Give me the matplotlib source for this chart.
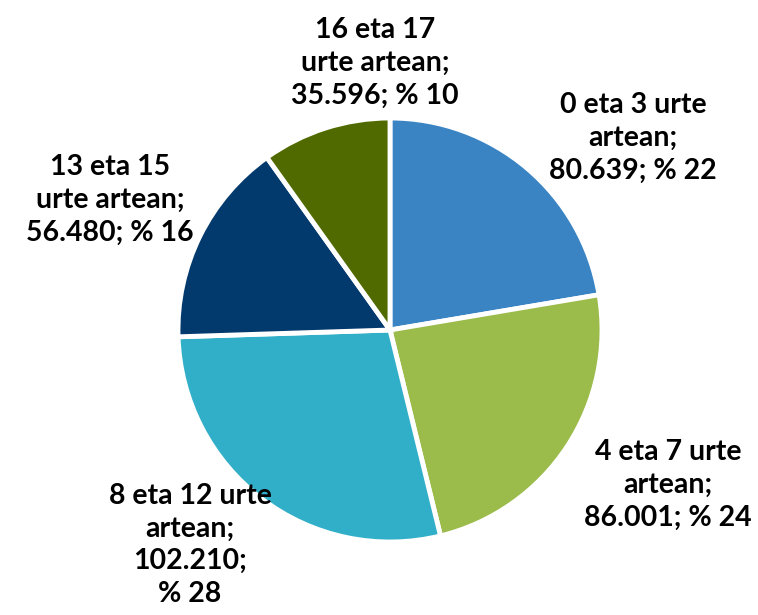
import matplotlib
matplotlib.use("Agg")
import matplotlib.pyplot as plt

# adin-taldeak
kategoriak = ["0 eta 3 urte\nartean", "4 eta 7 urte\nartean", "8 eta 12 urte\nartean",
              "13 eta 15\nurte artean", "16 eta 17\nurte artean"]
balioak = [80639, 86001, 102210, 56480, 35596]
koloreak = ["#3A84C4", "#9BBB4B", "#31AFC8", "#023A6E", "#506A00"]

# etiketen kokapena (pie-aren unitateetan)
etiketa_pos = [(1.146, 0.906), (1.311, -0.731), (-0.943, -1.014), (-1.32, 0.613), (-0.07, 1.26)]

def zenbakia(v):
    return f"{v:,}".replace(",", ".")

fig = plt.figure(figsize=(7.58, 6.15), dpi=100)
ax = fig.add_axes([178/758, 73/615, 424/758, 424/615])

ax.pie(balioak, colors=koloreak, startangle=90, counterclock=False,
       wedgeprops=dict(edgecolor="white", linewidth=3.5))
ax.set_xlim(-1, 1)
ax.set_ylim(-1, 1)
ax.set_aspect("equal")

guztira = sum(balioak)
for i, (kat, v) in enumerate(zip(kategoriak, balioak)):
    ehuneko = round(100 * v / guztira)
    if v >= 100000:
        testua = f"{kat};\n{zenbakia(v)};\n% {ehuneko}"
    else:
        testua = f"{kat};\n{zenbakia(v)}; % {ehuneko}"
    x, y = etiketa_pos[i]
    ax.text(x, y, testua, ha="center", va="center", fontsize=20.5, fontweight="bold",
            family="Lato", linespacing=1.32, clip_on=False)

fig.savefig("out.png", dpi=100)
